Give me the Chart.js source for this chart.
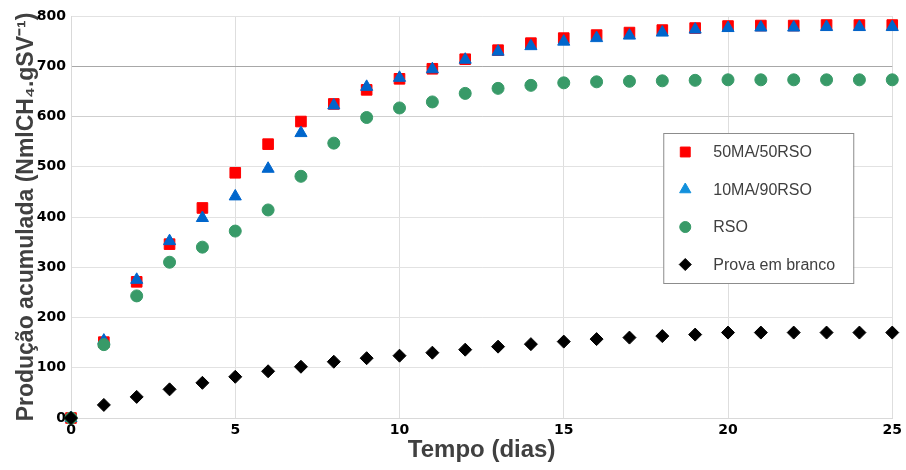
<!DOCTYPE html>
<html>
<head>
<meta charset="utf-8">
<script src="https://cdn.jsdelivr.net/npm/chart.js@4/dist/chart.umd.min.js"></script>
<style>
  body { margin: 0; background: #fff; }
  #wrap { width: 906px; height: 470px; }
</style>
</head>
<body>
<div id="wrap"><canvas id="chart" width="906" height="470"></canvas></div>
<script>
const days = [0, 1, 2, 3, 4, 5, 6, 7, 8, 9, 10, 11, 12, 13, 14, 15, 16, 17, 18, 19, 20, 21, 22, 23, 24, 25];
const ma50rso50 = [0, 151, 271, 346, 418, 488, 545, 590, 625, 653, 675, 695, 714, 732, 746, 756, 762, 767, 772, 776, 780, 781, 781, 782, 782, 782];
const ma10rso90 = [0, 154, 275, 352, 398, 441, 496, 567, 622, 659, 677, 694, 713, 729, 740, 749, 756, 761, 767, 773, 776, 777, 777, 778, 778, 778];
const rso = [0, 146, 243, 310, 340, 372, 414, 481, 547, 598, 617, 629, 646, 656, 662, 667, 669, 670, 671, 672, 673, 673, 673, 673, 673, 673];
const blank = [0, 26, 42, 57, 70, 82, 93, 102, 112, 119, 124, 130, 136, 142, 147, 152, 157, 160, 163, 166, 170, 170, 170, 170, 170, 170];
const xTicks = [0, 5, 10, 15, 20, 25];
const yTicks = [0, 100, 200, 300, 400, 500, 600, 700, 800];

const toPoints = vals => vals.map((v, i) => ({ x: days[i], y: v }));

// legend drawn as a framed box inside the plot, like the original
const boxLegend = {
  id: 'boxLegend',
  afterDatasetsDraw(chart) {
    const { ctx, chartArea } = chart;
    const left = chartArea.right - 229, top = chartArea.top + 117;
    const w = 190, h = 150;
    ctx.save();
    ctx.fillStyle = '#ffffff';
    ctx.fillRect(left, top, w, h);
    ctx.strokeStyle = '#8c8c8c';
    ctx.lineWidth = 1;
    ctx.strokeRect(left + 0.5, top + 0.5, w, h);
    chart.data.datasets.forEach((ds, i) => {
      const y = top + 19 + i * 37.5;
      ctx.fillStyle = ds.legendColor;
      ctx.strokeStyle = ds.legendColor;
      Chart.helpers.drawPoint(ctx, { pointStyle: ds.pointStyle, radius: ds.pointRadius - 0.5, rotation: 0, borderWidth: 1 }, left + 22, y);
      ctx.fillStyle = '#404040';
      ctx.font = '16px "Liberation Sans", Arial, sans-serif';
      ctx.textBaseline = 'middle';
      ctx.textAlign = 'left';
      ctx.fillText(ds.label, left + 50, y + 1);
    });
    ctx.restore();
  }
};

const tickFont = { family: '"DejaVu Sans", sans-serif', size: 14, weight: 'bold' };
const xTitleFont = { family: '"Liberation Sans", Arial, sans-serif', size: 24, weight: 'bold' };
const yTitleFont = { family: '"Liberation Sans", Arial, sans-serif', size: 23, weight: 'bold' };

new Chart(document.getElementById('chart'), {
  type: 'scatter',
  data: {
    datasets: [
      { label: '50MA/50RSO', data: toPoints(ma50rso50), pointStyle: 'rect', pointRadius: 7.5,
        backgroundColor: '#ff0000', borderColor: '#ff0000', legendColor: '#ff0000', borderWidth: 1, order: 4 },
      { label: '10MA/90RSO', data: toPoints(ma10rso90), pointStyle: 'triangle', pointRadius: 7,
        backgroundColor: '#0066cc', borderColor: '#0066cc', legendColor: '#1290dc', borderWidth: 1, order: 3 },
      { label: 'RSO', data: toPoints(rso), pointStyle: 'circle', pointRadius: 6,
        backgroundColor: '#389a68', borderColor: '#389a68', legendColor: '#389a68', borderWidth: 1, order: 2 },
      { label: 'Prova em branco', data: toPoints(blank), pointStyle: 'rectRot', pointRadius: 6.5,
        backgroundColor: '#000000', borderColor: '#000000', legendColor: '#000000', borderWidth: 1, order: 1 }
    ]
  },
  options: {
    responsive: false,
    animation: false,
    clip: false,
    layout: { padding: { left: 0, right: 10, top: 16, bottom: 0 } },
    plugins: { legend: { display: false }, tooltip: { enabled: false } },
    scales: {
      x: {
        type: 'linear', min: 0, max: 25,
        afterBuildTicks: s => { s.ticks = xTicks.map(v => ({ value: v })); },
        afterFit: s => { s.height = 52; },
        grid: { color: '#dedede', drawTicks: false },
        border: { color: '#d9d9d9' },
        ticks: { color: '#000', font: tickFont, padding: 4, maxRotation: 0 },
        title: { display: true, text: 'Tempo (dias)', color: '#404040', font: xTitleFont, padding: { top: 0, bottom: 5 } }
      },
      y: {
        min: 0, max: 800,
        afterBuildTicks: s => { s.ticks = yTicks.map(v => ({ value: v })); },
        afterFit: s => { s.width = 71; },
        grid: {
          drawTicks: false,
          color: c => c.tick && c.tick.value === 700 ? '#a8a8a8' : (c.tick && c.tick.value === 600 ? '#cfcfcf' : '#e2e2e2')
        },
        border: { color: '#d9d9d9' },
        ticks: { color: '#000', font: tickFont, padding: 5 },
        title: { display: true, text: 'Produção acumulada (NmlCH₄.gSV⁻¹)', color: '#404040', font: yTitleFont, padding: { top: 13, bottom: 0 } }
      }
    }
  },
  plugins: [boxLegend]
});
</script>
</body>
</html>
